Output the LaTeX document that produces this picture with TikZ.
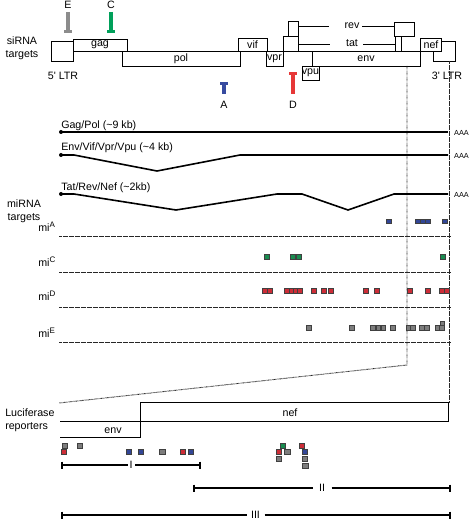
\documentclass[tikz,border=0pt]{standalone}
\usepackage{fontspec}
\setmainfont{Liberation Sans}
\definecolor{cE}{RGB}{140,140,140}
\definecolor{cC}{RGB}{0,160,90}
\definecolor{cA}{RGB}{55,75,160}
\definecolor{cD}{RGB}{230,55,55}
\definecolor{qA}{RGB}{50,70,150}
\definecolor{qC}{RGB}{25,140,80}
\definecolor{qD}{RGB}{205,45,55}
\definecolor{qE}{RGB}{125,125,125}
\begin{document}
\begin{tikzpicture}[x=0.75pt,y=-0.75pt,
  lab/.style={font=\fontsize{8}{9.5}\selectfont, inner sep=0pt},
  small/.style={font=\fontsize{5.5}{6}\selectfont, inner sep=0pt},
  gbox/.style={draw=black, line width=0.6pt},
  tx/.style={draw=black, line width=1.2pt, line join=round},
  tdot/.style={circle, fill=black, inner sep=0pt, minimum size=3pt},
  dotl/.style={draw=black!85, line width=0.7pt, dash pattern=on 0.45pt off 0.45pt},
  sq/.style={draw=black!75, line width=0.45pt, minimum size=3.4pt, inner sep=0pt},
  sqb/.style={draw=black!75, line width=0.5pt, minimum size=4.2pt, inner sep=0pt},
  rng/.style={draw=black, line width=1.3pt},
  inh/.style={line width=2.3pt}]
\useasboundingbox (0,0) rectangle (470,520);

% ---------- genome map ----------
\node[lab, align=center] (sirna) at (22,48) {siRNA\\targets};
\draw[gbox] (73,51.5) -- (420.5,51.5);
\draw[gbox] (51,41) rectangle (73,61);
\draw[gbox] (73,39) rectangle (127,51.5);
\draw[gbox] (122,51.5) rectangle (240,66);
\draw[gbox] (238,38) rectangle (267,51.5);
\draw[gbox] (266,51.5) rectangle (283,66);
\draw[gbox] (283,36) rectangle (298,51.5);
\draw[gbox] (288,21) rectangle (298,36);
\draw[gbox] (394,22) rectangle (414,36);
\draw[gbox] (395,36) rectangle (401,51.5);
\draw[gbox] (312,51.5) rectangle (420.5,66);
\draw[gbox] (302,66) rectangle (319,80);
\draw[gbox, fill=white] (433,41) rectangle (455,61);
\draw[gbox, fill=white] (420.5,38) rectangle (441,51.5);

\node[lab] (ltr5) at (63,76) {5\textquotesingle\ LTR};
\node[lab] (ltr3) at (447,76) {3\textquotesingle\ LTR};
\node[lab] (gag) at (100,44.5) {gag};
\node[lab] (pol) at (181,58.5) {pol};
\node[lab] (vif) at (252.5,44.5) {vif};
\node[lab] (vpr) at (274.5,58.5) {vpr};
\node[lab] (vpu) at (310.5,72.5) {vpu};
\node[lab] (env) at (366,58.5) {env};
\node[lab] (nef) at (431,44.5) {nef};
\node[lab] (rev) at (352,26) {rev};
\node[lab] (tat) at (352,43.5) {tat};
\draw[gbox] (298,26) -- (329,26);
\draw[gbox] (362,26) -- (394,26);
\draw[gbox] (298,44) -- (330,44);
\draw[gbox] (363,44) -- (395,44);

% siRNA target bars
\node[lab] (lE) at (68,5) {E};
\node[lab] (lC) at (111,5) {C};
\node[lab] (lA) at (224,105) {A};
\node[lab] (lD) at (293,105) {D};
\draw[cE, inh] (68,12) -- (68,31.5);
\draw[cE, line width=1.6pt] (64,31.5) -- (72,31.5);
\draw[cC, inh] (111,12) -- (111,31.5);
\draw[cC, line width=1.6pt] (107,31.5) -- (115,31.5);
\draw[cA, inh] (224,83.5) -- (224,94);
\draw[cA, line width=1.6pt] (220,83.5) -- (228,83.5);
\draw[cD, inh] (293,73.5) -- (293,94);
\draw[cD, line width=1.6pt] (289,73.5) -- (297,73.5);

% dotted guides
\coordinate (g1) at (407,66);
\coordinate (g2) at (407,365);
\coordinate (g3) at (59,403);
\coordinate (h1) at (449,61);
\coordinate (h2) at (449,402);
\draw[dotl] (g1) -- (g2) -- (g3);
\draw[dotl] (h1) -- (h2);

% ---------- transcripts ----------
\node[lab, anchor=west] (t1) at (61,126) {Gag/Pol (\textasciitilde9 kb)};
\node[tdot] (d1) at (61,132) {};
\draw[tx] (d1.center) -- (448,132);
\node[small] (a1) at (461.5,133) {AAA};

\node[lab, anchor=west] (t2) at (61,148) {Env/Vif/Vpr/Vpu (\textasciitilde4 kb)};
\node[tdot] (d2) at (61,155) {};
\draw[tx] (d2.center) -- (74,155) -- (157,171) -- (240,155) -- (448,155);
\node[small] (a2) at (461.5,156) {AAA};

\node[lab, anchor=west] (t3) at (61,188) {Tat/Rev/Nef (\textasciitilde2kb)};
\node[tdot] (d3) at (61,194) {};
\draw[tx] (d3.center) -- (74,194) -- (176,210) -- (277,194) -- (302,194) -- (348,210) -- (394,194) -- (448,194);
\node[small] (a3) at (461.5,195) {AAA};

% ---------- miRNA targets ----------
\node[lab, align=center] (mirna) at (24,211) {miRNA\\targets};
\node[lab, anchor=base west] (mA) at (38,231) {mi\textsuperscript{A}};
\node[lab, anchor=base west] (mC) at (38,266) {mi\textsuperscript{C}};
\node[lab, anchor=base west] (mD) at (38,300.5) {mi\textsuperscript{D}};
\node[lab, anchor=base west] (mE) at (38,337) {mi\textsuperscript{E}};
\draw[dotl] (59,236) -- (451,236);
\draw[dotl] (59,272) -- (451,272);
\draw[dotl] (59,307) -- (451,307);
\draw[dotl] (59,342) -- (451,342);

\foreach \x [count=\i] in {389,418,423,428,445}
  \node[sq, fill=qA] (sA\i) at (\x,221.5) {};
\foreach \x [count=\i] in {267,293,299,443}
  \node[sq, fill=qC] (sC\i) at (\x,257) {};
\foreach \x [count=\i] in {265,270,287,292,296,300,314,324,331,366,377,410,428,442,447}
  \node[sq, fill=qD] (sD\i) at (\x,291) {};
\foreach \x [count=\i] in {309,352,373,378.5,383.5,393,408.5,413,422,427,438,442}
  \node[sq, fill=qE] (sE\i) at (\x,328) {};
\node[sq, fill=qE] (sE13) at (442.5,323.5) {};

% ---------- luciferase reporters ----------
\node[lab, anchor=west, align=left] (luc) at (5,420) {Luciferase\\reporters};
\draw[gbox] (140,402) rectangle (448,421);
\draw[gbox] (60,421) -- (140,421) -- (140,437) -- (60,437);
\node[lab] (nefr) at (290,413) {nef};
\node[lab] (envr) at (113,431) {env};

% bottom squares
\node[sqb, fill=qE] (b1) at (65,446) {};
\node[sqb, fill=qE] (b2) at (80,446) {};
\node[sqb, fill=qD] (b3) at (64,452) {};
\node[sqb, fill=qA] (b4) at (129,452) {};
\node[sqb, fill=qA] (b5) at (141,452) {};
\node[sqb, fill=qE] (b6) at (162.5,452) {};
\node[sqb, fill=qD] (b7) at (183,452) {};
\node[sqb, fill=qA] (b8) at (191,452) {};
\node[sqb, fill=qC] (b9) at (283,446) {};
\node[sqb, fill=qD] (b10) at (302,446) {};
\node[sqb, fill=qD] (b11) at (279,452) {};
\node[sqb, fill=qE] (b12) at (287.5,452) {};
\node[sqb, fill=qA] (b13) at (305,452) {};
\node[sqb, fill=qE] (b14) at (279,459) {};
\node[sqb, fill=qE] (b15) at (305,459) {};
\node[sqb, fill=qE] (b16) at (305.5,466) {};

% ranges
\node[lab] (rI) at (131,465) {I};
\draw[rng] (62,465) -- (127.5,465);
\draw[rng] (135,465) -- (200,465);
\draw[rng] (62,461.5) -- (62,468.5);
\draw[rng] (200,461.5) -- (200,468.5);

\node[lab] (rII) at (322,488) {II};
\draw[rng] (194,488) -- (313,488);
\draw[rng] (331.5,488) -- (450,488);
\draw[rng] (194,484.5) -- (194,491.5);
\draw[rng] (450,484.5) -- (450,491.5);

\node[lab] (rIII) at (255.5,515) {III};
\draw[rng] (62,515) -- (247,515);
\draw[rng] (264.5,515) -- (450,515);
\draw[rng] (62,511.5) -- (62,518.5);
\draw[rng] (450,511.5) -- (450,518.5);
\end{tikzpicture}
\end{document}
